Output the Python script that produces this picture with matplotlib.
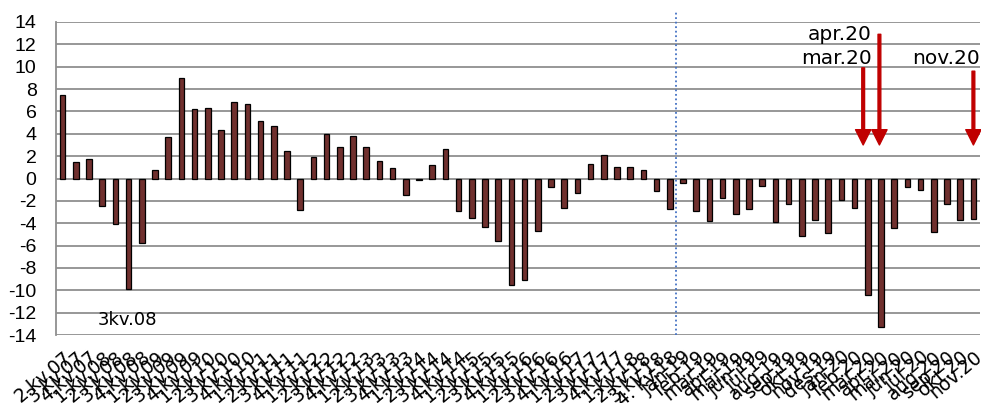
import matplotlib
matplotlib.use("Agg")
import matplotlib.pyplot as plt
import numpy as np

quarter_labels = [
    "2.kv.07", "3.kv.07", "4.kv.07",
    "1.kv.08", "2.kv.08", "3.kv.08", "4.kv.08",
    "1.kv.09", "2.kv.09", "3.kv.09", "4.kv.09",
    "1.kv.10", "2.kv.10", "3.kv.10", "4.kv.10",
    "1.kv.11", "2.kv.11", "3.kv.11", "4.kv.11",
    "1.kv.12", "2.kv.12", "3.kv.12", "4.kv.12",
    "1.kv.13", "2.kv.13", "3.kv.13", "4.kv.13",
    "1.kv.14", "2.kv.14", "3.kv.14", "4.kv.14",
    "1.kv.15", "2.kv.15", "3.kv.15", "4.kv.15",
    "1.kv.16", "2.kv.16", "3.kv.16", "4.kv.16",
    "1.kv.17", "2.kv.17", "3.kv.17", "4.kv.17",
    "1.kv.18", "2.kv.18", "3.kv.18", "4. kv.18",
]
quarter_values = [
    7.5, 1.5, 1.7, -2.5, -4.1, -9.9, -5.8, 0.8, 3.7, 9.0,
    6.2, 6.3, 4.3, 6.8, 6.7, 5.1, 4.7, 2.5, -2.8, 1.9,
    4.0, 2.8, 3.8, 2.8, 1.6, 0.9, -1.5, -0.1, 1.2, 2.6,
    -2.9, -3.5, -4.3, -5.6, -9.5, -9.1, -4.7, -0.8, -2.6, -1.3,
    1.3, 2.1, 1.0, 1.0, 0.8, -1.1, -2.7,
]
month_labels = [
    "jan.19", "feb.19", "mar.19", "apr.19", "mai.19", "jun.19",
    "jul.19", "aug.19", "sep.19", "okt.19", "nov.19", "des.19",
    "jan.20", "feb.20", "mar.20", "apr.20", "mai.20", "jun.20",
    "jul.20", "aug.20", "sep.20", "okt.20", "nov.20",
]
month_values = [
    -0.4, -2.9, -3.8, -1.7, -3.2, -2.7, -0.7, -3.9, -2.3, -5.1,
    -3.7, -4.9, -1.9, -2.6, -10.4, -13.3, -4.4, -0.8, -1.0, -4.8,
    -2.3, -3.7, -3.6,
]
y_ticks = list(range(-14, 15, 2))
arrow_labels = ["mar.20", "apr.20", "nov.20"]
arrow_tops = [9.9, 12.9, 9.6]
arrow_tip = 3.0
note_label = "3kv.08"

labels = quarter_labels + month_labels
values = quarter_values + month_values
x = np.arange(len(labels))

fig = plt.figure(figsize=(9.81, 4.03), dpi=100)
ax = fig.add_axes([56 / 981, 1 - 335 / 403, 924 / 981, 313 / 403])

grid_col = "#8f8f8f"
for yv in y_ticks:
    ax.axhline(yv, color=grid_col, lw=1.3, zorder=1)

ax.bar(x, values, width=0.42, color="#70302e", edgecolor="black", linewidth=0.9, zorder=3)

ax.set_xlim(-0.5, len(labels) - 0.5)
ax.set_ylim(-14, 14)
ax.set_yticks(y_ticks)
ax.set_yticklabels([str(v) for v in y_ticks], family="Liberation Sans", fontsize=14)
ax.set_xticks(x)
ax.set_xticklabels(labels, rotation=40, ha="right", va="top",
                   rotation_mode="anchor", fontsize=13.5, family="DejaVu Sans")
ax.tick_params(axis="y", length=0, pad=14)
ax.tick_params(axis="x", length=0, pad=9)
for s in ["top", "right", "bottom"]:
    ax.spines[s].set_visible(False)
ax.spines["left"].set_color(grid_col)
ax.spines["left"].set_linewidth(1.3)

# divider between quarterly and monthly data
split = len(quarter_labels) - 0.5
ax.axvline(split, ymin=0, ymax=(15.1 + 14) / 28, clip_on=False,
           color="#4472C4", ls=(0, (1, 1.5)), lw=1.3, zorder=2)

red = "#C00000"
offsets = [-0.35, -0.12, 0.0]
for lab, top, off in zip(arrow_labels, arrow_tops, offsets):
    xi = labels.index(lab) + off
    ax.annotate("", xy=(xi, arrow_tip), xytext=(xi, top),
                arrowprops=dict(width=2.0, headwidth=11, headlength=11,
                                color=red, shrink=0), zorder=5)

ax.text(labels.index("apr.20") - 0.7, 12.4, "apr.20", ha="right", va="baseline",
        fontsize=14.5, family="DejaVu Sans")
ax.text(labels.index("mar.20") + 0.3, 10.25, "mar.20", ha="right", va="baseline",
        fontsize=14.5, family="DejaVu Sans")
ax.text(labels.index("nov.20") - 4.65, 10.25, "nov.20", ha="left", va="baseline",
        fontsize=14.5, family="DejaVu Sans", clip_on=False)
ax.text(labels.index("3.kv.08") - 2.32, -13.1, note_label, ha="left", va="baseline",
        fontsize=13, family="DejaVu Sans")

fig.savefig("out.png", dpi=100)
